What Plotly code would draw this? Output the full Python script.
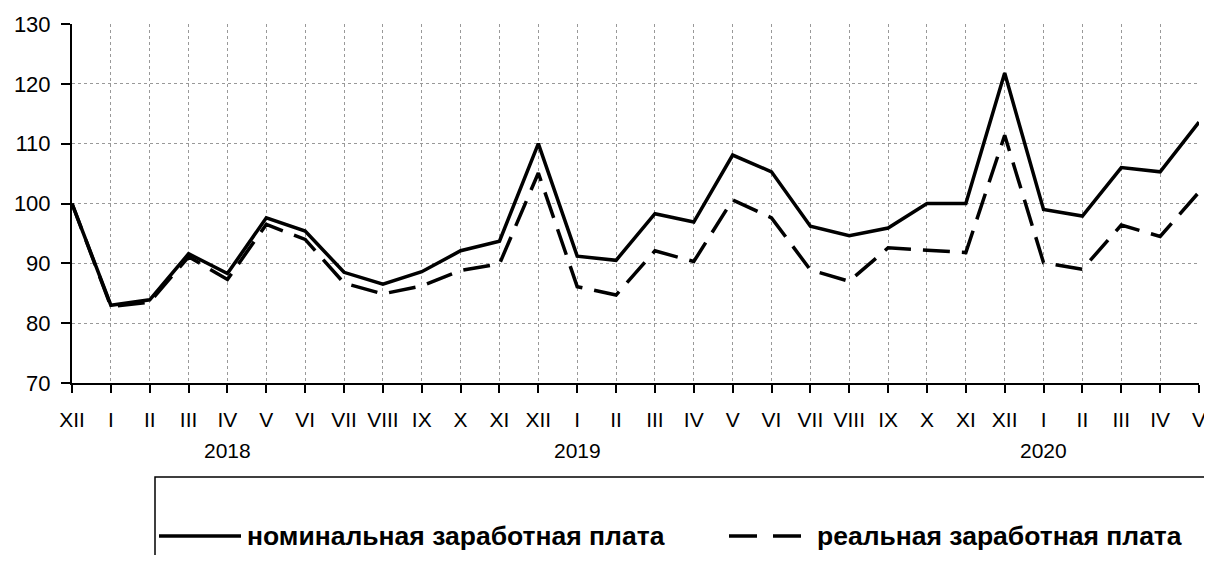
import plotly.graph_objects as go

months = ["XII", "I", "II", "III", "IV", "V", "VI", "VII", "VIII", "IX", "X", "XI",
          "XII", "I", "II", "III", "IV", "V", "VI", "VII", "VIII", "IX", "X", "XI",
          "XII", "I", "II", "III", "IV", "V"]
years = ["2018", "2019", "2020"]
year_pos = [4, 13, 25]

nominal = [100.0, 83.0, 83.9, 91.6, 88.3, 97.6, 95.4, 88.5, 86.5, 88.6, 92.1, 93.7,
           110.0, 91.2, 90.5, 98.3, 96.9, 108.1, 105.3, 96.2, 94.6, 95.9, 100.0, 100.0,
           121.8, 99.0, 97.9, 106.0, 105.3, 113.6]
real = [100.0, 82.8, 83.5, 91.1, 87.3, 96.5, 94.0, 86.7, 84.9, 86.2, 88.8, 89.9,
        105.1, 86.1, 84.7, 92.1, 90.3, 100.6, 97.6, 88.9, 87.0, 92.6, 92.2, 91.8,
        111.4, 90.1, 89.0, 96.4, 94.5, 101.9]
names = ["номинальная заработная плата", "реальная заработная плата"]

x = list(range(len(months)))
FONT = "Liberation Sans, Arial, sans-serif"

fig = go.Figure()
fig.add_trace(go.Scatter(x=x, y=nominal, mode="lines", name=names[0],
                         line=dict(color="black", width=3.5), showlegend=False))
fig.add_trace(go.Scatter(x=x, y=real, mode="lines", name=names[1],
                         line=dict(color="black", width=3.5, dash="27px,12px"),
                         showlegend=False))

# the page body has an 8px margin; figure spans to the right window edge,
# and stays short enough vertically to avoid a scrollbar
OFF = 8
W, H = 1212 - OFF, 563 - 2 * OFF
L, T = 72 - OFF, 24 - OFF
R = (OFF + W) - 1199
B = (OFF + H) - 383
pw, ph = W - L - R, H - T - B


def px_x(p):  # window pixel -> paper
    return (p - OFF - L) / pw


def px_y(p):
    return (H - B - (p - OFF)) / ph


shapes = []
shapes.append(dict(type="rect", xref="paper", yref="paper",
                   x0=px_x(155), x1=px_x(1209), y0=px_y(640), y1=px_y(477),
                   line=dict(color="black", width=1.5), fillcolor="rgba(0,0,0,0)"))
ly = px_y(536)
shapes.append(dict(type="line", xref="paper", yref="paper", x0=px_x(159), x1=px_x(241),
                   y0=ly, y1=ly, line=dict(color="black", width=3.5)))
shapes.append(dict(type="line", xref="paper", yref="paper", x0=px_x(729), x1=px_x(801),
                   y0=ly, y1=ly, line=dict(color="black", width=3.5, dash="28px,16px")))

annotations = []
for yr, pos in zip(years, year_pos):
    annotations.append(dict(x=pos, xref="x", y=px_y(450), yref="paper", text=yr,
                            showarrow=False, xanchor="center", yanchor="middle",
                            font=dict(family=FONT, size=21, color="black")))
annotations.append(dict(x=px_x(245), xref="paper", y=ly, yref="paper", text="<b>" + names[0] + "</b>",
                        showarrow=False, xanchor="left", yanchor="middle",
                        font=dict(family=FONT, size=26.5, color="black")))
annotations.append(dict(x=px_x(815), xref="paper", y=ly, yref="paper", text="<b>" + names[1] + "</b>",
                        showarrow=False, xanchor="left", yanchor="middle",
                        font=dict(family=FONT, size=26.5, color="black")))

fig.update_layout(
    width=W, height=H,
    margin=dict(l=L, r=R, t=T, b=B),
    paper_bgcolor="white", plot_bgcolor="white",
    font=dict(family=FONT, size=21, color="black"),
    shapes=shapes, annotations=annotations,
    showlegend=False,
)
fig.update_xaxes(range=[0, len(months) - 1], tickvals=x, ticktext=months,
                 automargin=False, ticklabeloverflow="allow",
                 showline=True, linecolor="black", linewidth=2,
                 ticks="outside", ticklen=8, tickwidth=2, tickcolor="black",
                 showgrid=True, gridcolor="#999999", gridwidth=1, griddash="dot",
                 ticklabelstandoff=9, tickangle=0, zeroline=False,
                 tickfont=dict(family=FONT, size=21, color="black"))
fig.update_yaxes(range=[70, 130], dtick=10, tick0=70,
                 automargin=False, ticklabeloverflow="allow",
                 showline=True, linecolor="black", linewidth=2,
                 ticks="outside", ticklen=9, tickwidth=2, tickcolor="black",
                 showgrid=True, gridcolor="#999999", gridwidth=1, griddash="dot",
                 ticklabelstandoff=6, zeroline=False,
                 tickfont=dict(family=FONT, size=22, color="black"))

fig.write_html("out.html")
